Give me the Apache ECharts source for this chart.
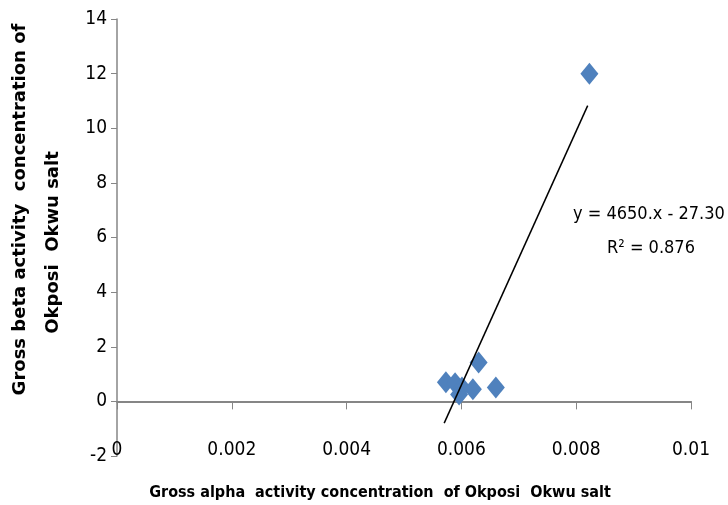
<!DOCTYPE html>
<html>
<head>
<meta charset="utf-8">
<script src="https://cdn.jsdelivr.net/npm/echarts@6/dist/echarts.min.js"></script>
<style>html,body{margin:0;padding:0;background:#fff}#c{width:728px;height:505px}</style>
</head>
<body>
<div id="c"></div>
<script>
const alphaValues = [0.00573, 0.00589, 0.00601, 0.00596, 0.0062, 0.0063, 0.0066, 0.00823];
const betaValues  = [0.70, 0.66, 0.51, 0.25, 0.44, 1.42, 0.51, 12.0];
const trendSlope = 4650;
const trendIntercept = -27.30;
const trendXRange = [0.0057, 0.0082];
const equationText = 'y = 4650.x - 27.30';
const r2Text = 'R² = 0.876';
const xAxisTitle = 'Gross alpha  activity concentration  of Okposi  Okwu salt';
const yAxisTitleLine1 = 'Gross beta activity  concentration of';
const yAxisTitleLine2 = 'Okposi  Okwu salt';

const points = alphaValues.map((a, i) => [a, betaValues[i]]);
const trend = trendXRange.map(x => [x, trendSlope * x + trendIntercept]);

const narrow = '"DejaVu Sans Condensed", "Liberation Sans", sans-serif';
const titleFont = '"DejaVu Sans", sans-serif';
const chart = echarts.init(document.getElementById('c'));
chart.setOption({
  animation: false,
  grid: {left: 117, right: 37, top: 19, bottom: 49, containLabel: false, outerBoundsMode: 'none'},
  xAxis: {
    type: 'value', min: 0, max: 0.01, interval: 0.002,
    splitLine: {show: false},
    axisLine: {onZero: true, lineStyle: {color: '#868686', width: 2}},
    axisTick: {length: 8, lineStyle: {color: '#868686'}},
    axisLabel: {margin: -15, color: '#000', fontSize: 19, fontFamily: narrow},
    name: xAxisTitle, nameLocation: 'middle', nameGap: 29,
    nameTextStyle: {color: '#000', fontSize: 16, fontWeight: 'bold', fontFamily: narrow, padding: [0, 48, 0, 0]}
  },
  yAxis: {
    type: 'value', min: -2, max: 14, interval: 2,
    splitLine: {show: false},
    axisLine: {onZero: false, lineStyle: {color: '#868686', width: 1.5}},
    axisTick: {length: 6, lineStyle: {color: '#868686'}},
    axisLabel: {margin: 10, color: '#000', fontSize: 19, fontFamily: narrow},
    name: '{a|' + yAxisTitleLine1 + '}\n{b|' + yAxisTitleLine2 + '}',
    nameLocation: 'middle', nameGap: 47,
    nameTextStyle: {
      color: '#000', fontSize: 18, fontWeight: 'bold', fontFamily: titleFont, lineHeight: 33,
      padding: [0, 0, 0, 56],
      rich: {
        a: {color: '#000', fontSize: 18, fontWeight: 'bold', fontFamily: titleFont, lineHeight: 33},
        b: {color: '#000', fontSize: 18, fontWeight: 'bold', fontFamily: titleFont, lineHeight: 33, padding: [0, 66, 0, 0]}
      }
    }
  },
  series: [
    {type: 'scatter', data: points, symbol: 'diamond', symbolSize: [18, 22],
     itemStyle: {color: '#4F81BD', opacity: 1}, z: 3},
    {type: 'line', data: trend, symbol: 'none', lineStyle: {color: '#000', width: 1.5}, z: 4}
  ],
  graphic: [
    {type: 'text', left: 573, top: 205, style: {text: equationText, fontSize: 18, fontFamily: narrow, fill: '#000'}},
    {type: 'text', left: 607, top: 239, style: {text: r2Text, fontSize: 18, fontFamily: narrow, fill: '#000'}}
  ]
});
</script>
</body>
</html>
